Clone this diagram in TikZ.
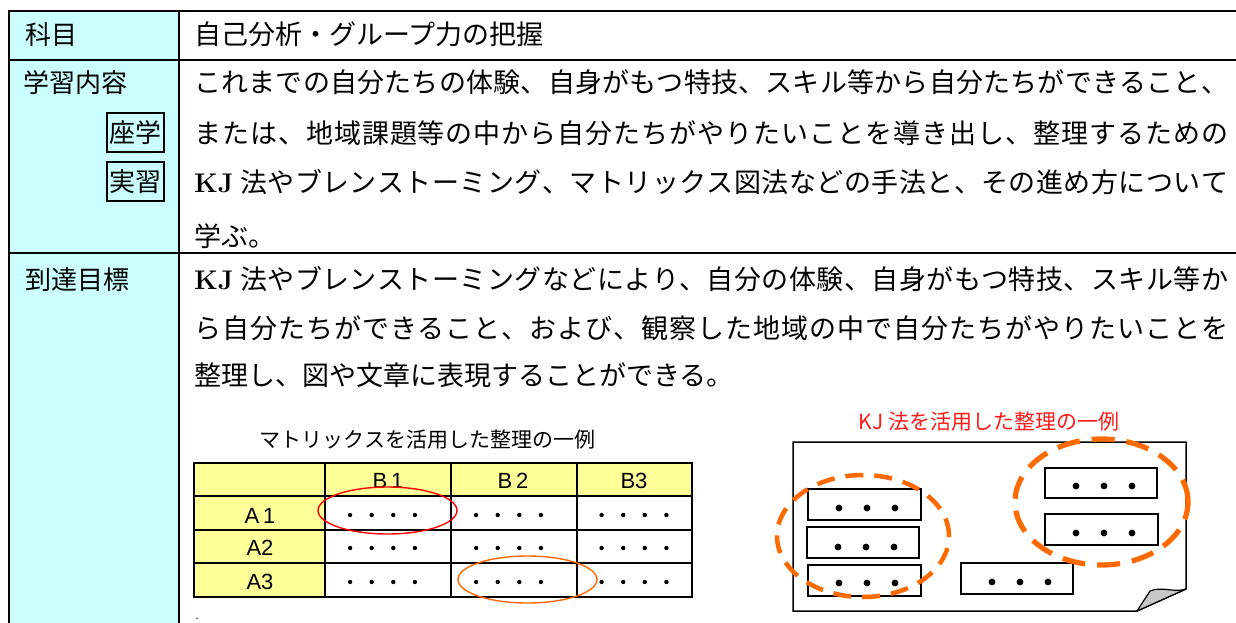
\documentclass[tikz,border=0pt]{standalone}
\usepackage{fontspec}
\newfontfamily\jp{Noto Sans CJK JP}
\newfontfamily\lsans{Liberation Sans}
\makeatletter
\newcommand\jline[2]{\hbox to #1{\@tfor\jtok:=#2\do{\jtok\hfil}\unskip}}
\makeatother
\definecolor{cyanbg}{HTML}{CCFFFF}
\definecolor{yel}{HTML}{FFFF99}
\definecolor{kjorange}{HTML}{FF6A00}
\definecolor{kjred}{HTML}{FF1A1A}
\tikzset{
  tline/.style={line width=2pt, line cap=rect},
  mline/.style={line width=2pt},
  bodytext/.style={anchor=base west, inner sep=0pt, font=\jp\fontsize{27}{30}\selectfont},
  labeltext/.style={anchor=base west, inner sep=0pt, font=\jp\fontsize{26}{30}\selectfont},
  tagbox/.style={draw, line width=1.5pt, inner sep=0pt, minimum width=57pt, minimum height=39pt, font=\jp\fontsize{26}{30}\selectfont},
  mlab/.style={inner sep=0pt, font=\lsans\fontsize{22}{24}\selectfont},
  caption/.style={inner sep=0pt, font=\jp\fontsize{21}{24}\selectfont},
  kjbox/.style={line width=1.5pt, fill=white},
  dashring/.style={draw=kjorange, line width=4.5pt, dash pattern=on 18pt off 11pt},
}
\begin{document}
\begin{tikzpicture}[x=1pt,y=-1pt]
\useasboundingbox (0,0) rectangle (1236,623);
% left column background
\fill[cyanbg] (9,11) rectangle (179,623);
% main table rules
\draw[tline] (9,11) -- (1236,11);
\draw[tline] (9,60) -- (1236,60);
\draw[tline] (9,253) -- (1236,253);
\draw[tline] (9,11) -- (9,623);
\draw[tline] (179,11) -- (179,623);

% left labels
\node[labeltext] (l1) at (25,45) {科目};
\node[labeltext] (l2) at (23,93) {学習内容};
\node[tagbox] (zagaku) at (135.5,132.5) {座学};
\node[tagbox] (jisshu) at (135.5,181.5) {実習};
\node[labeltext] (l3) at (25,289) {到達目標};

% right column text
\node[bodytext] (t1) at (194,45) {自己分析・グループ力の把握};
\node[bodytext] (t2a) at (194,93) {\jline{1034pt}{これまでの自分たちの体験、自身がもつ特技、スキル等から自分たちができること、}};
\node[bodytext] (t2b) at (194,143) {\jline{1034pt}{または、地域課題等の中から自分たちがやりたいことを導き出し、整理するための}};
\node[bodytext] (t2c) at (194,192) {\jline{1034pt}{{{\rmfamily\bfseries KJ}\ }法やブレンストーミング、マトリックス図法などの手法と、その進め方について}};
\node[bodytext] (t2d) at (194,246) {学ぶ。};
\node[bodytext] (t3a) at (194,289) {\jline{1034pt}{{{\rmfamily\bfseries KJ}\ }法やブレンストーミングなどにより、自分の体験、自身がもつ特技、スキル等か}};
\node[bodytext] (t3b) at (194,338) {\jline{1034pt}{ら自分たちができること、および、観察した地域の中で自分たちがやりたいことを}};
\node[bodytext] (t3c) at (194,385) {整理し、図や文章に表現することができる。};

% matrix example
\node[caption] (mcap) at (427.5,440) {マトリックスを活用した整理の一例};
\fill[yel] (194,463) rectangle (692,496);
\fill[yel] (194,496) rectangle (325,597);
\draw[mline] (194,463) rectangle (692,597);
\draw[mline] (325,463) -- (325,597);
\draw[mline] (451,463) -- (451,597);
\draw[mline] (577,463) -- (577,597);
\draw[mline] (194,496) -- (692,496);
\draw[mline] (194,530) -- (692,530);
\draw[mline] (194,563) -- (692,563);
\node[mlab] (hb1) at (388,481) {B\,1};
\node[mlab] (hb2) at (513,481) {B\,2};
\node[mlab] (hb3) at (634,481) {B3};
\node[mlab] (ha1) at (260,516) {A\,1};
\node[mlab] (ha2) at (260,548) {A2};
\node[mlab] (ha3) at (260,582) {A3};
\foreach \cx in {382.5,508.5,634}{
  \foreach \ry in {515,548,582}{
    \foreach \k in {-1.5,-0.5,0.5,1.5}{
      \fill (\cx+\k*21.6,\ry) circle[radius=2.2pt];
    }
  }
}
\draw[red, line width=1.4pt] (387.5,510.5) ellipse[x radius=69.5pt, y radius=23.5pt];
\draw[kjorange, line width=1.4pt] (527.5,579.5) ellipse[x radius=69.5pt, y radius=23.5pt];
\node[inner sep=0pt, anchor=base, font=\fontsize{18}{18}\selectfont] (stop) at (197,619) {.};

% KJ example
\node[caption, text=kjred] (kcap) at (989,422) {KJ 法を活用した整理の一例};
\draw[line width=1.5pt, fill=white] (793,442) -- (1186,442) -- (1186,589) -- (1137,611) -- (793,611) -- cycle;
\filldraw[fill=black!22, line width=1.2pt] (1137,611) -- (1150,591) .. controls (1162,586) and (1174,593) .. (1186,589) -- cycle;
\draw[kjbox] (808,489) rectangle (921,520);
\draw[kjbox] (807,527) rectangle (919,558);
\draw[kjbox] (808,565) rectangle (921,596);
\draw[kjbox] (961,563) rectangle (1073,594);
\draw[kjbox] (1045,468) rectangle (1157,498);
\draw[kjbox] (1045,514) rectangle (1158,545);
\foreach \bx/\by in {867/508, 866/547, 867/583, 1020/582, 1104/486, 1104/533}{
  \foreach \k in {-1,0,1}{
    \fill (\bx+\k*28,\by) circle[radius=3.4pt];
  }
}
\draw[dashring] (863,536) ellipse[x radius=86pt, y radius=61pt];
\draw[dashring, line width=5.2pt, dash pattern=on 23pt off 12pt] (1101.5,502) ellipse[x radius=86.5pt, y radius=63pt];
\end{tikzpicture}
\end{document}
